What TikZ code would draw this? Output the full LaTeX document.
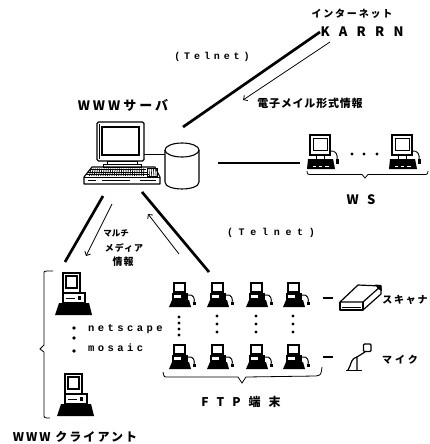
\documentclass[tikz,border=0pt]{standalone}
\usepackage{fontspec}
\setmainfont{Liberation Sans}
\newfontfamily\jpfont{Noto Sans CJK JP}
\newfontfamily\typefont{Liberation Mono}
\usetikzlibrary{arrows.meta}

% letter-spaced text: size, spacing, text
\newcommand\jtxt[3]{{\jpfont\bfseries\fontsize{#1}{#1}\selectfont\addfontfeature{LetterSpace=#2}#3}}
\newcommand\mtxt[3]{{\typefont\bfseries\fontsize{#1}{#1}\selectfont\addfontfeature{LetterSpace=#2}#3}}

\tikzset{
  heavy/.style={line width=2.7pt},
  flow/.style={line width=0.8pt,-{Straight Barb[angle=90:4.5pt,line width=0.8pt]}},
  brace/.style={line width=0.8pt},
  lbl/.style={inner sep=0pt,outer sep=0pt},
  dot/.style={circle,fill,inner sep=0pt,minimum size=3.4pt},
  % small black FTP terminal
  ftpterm/.pic={
    \fill (0,0) rectangle (13,11);
    \fill[white] (2,2) rectangle (11,9);
    \fill (-1,11) rectangle (15,18);
    \fill[white] (1,13) rectangle (8,16);
    \fill (-1,18) -- (16,18) -- (18,25) -- (-4,25) -- cycle;
    \draw[line width=1pt] (15,13) .. controls (21,12) and (22,17) .. (21,21);
    \fill (19.5,20) rectangle (22.5,23);
  },
  % workstation: monitor over a dark keyboard
  wsterm/.pic={
    \draw[line width=1.2pt] (0,0) rectangle (20,20);
    \draw[line width=0.9pt] (3,3) rectangle (17,15);
    \draw[line width=0.8pt] (6,20) -- (6,24) (14,20) -- (14,24);
    \fill (-2,24) -- (23,24) -- (25,34) -- (-3,34) -- cycle;
    \draw[white,line width=0.7pt] (3,31) -- (6,31) (9,31) -- (12,31) (15,31) -- (19,31);
    \draw[line width=0.9pt] (20,16) .. controls (26,15) and (28,20) .. (27,25);
    \fill (25.5,24) rectangle (28.5,29);
  },
  % desktop client: monitor on a system unit with a dark base
  clterm/.pic={
    \draw[line width=1.3pt] (0,0) rectangle (17,20);
    \draw[line width=1.5pt] (3,3) rectangle (14,15);
    \draw[line width=1.1pt] (0,20) rectangle (22,30);
    \draw[line width=0.9pt] (3,25) -- (12,25);
    \fill (15,23) rectangle (18,27);
    \fill (-4,30) -- (26,30) -- (29,42) -- (-8,42) -- cycle;
  },
}

\begin{document}
\begin{tikzpicture}[x=1pt,y=-1pt]
\useasboundingbox (0,0) rectangle (429,444);

% ---------------- labels ----------------
\node[lbl] (inetlbl) at (352,14) {\jtxt{10}{18}{インターネット}};
\node[lbl] (karrn) at (362,32) {\jtxt{13}{71}{KARRN}};
\node[lbl] (telnet1) at (212,57) {\mtxt{10}{39}{(Telnet)}};
\node[lbl] (maillbl) at (310,103) {\jtxt{11}{7}{電子メイル形式情報}};
\node[lbl] (srvlbl) at (123,105) {\jtxt{13}{23}{WWWサーバ}};
\node[lbl] (wslbl) at (361,200) {\jtxt{13}{65}{WS}};
\node[lbl] (mm1) at (116,233) {\jtxt{8.5}{0}{マルチ}};
\node[lbl] (mm2) at (124,248) {\jtxt{9}{10}{メディア}};
\node[lbl] (mm3) at (123,262) {\jtxt{10}{10}{情報}};
\node[lbl] (telnet2) at (271,233) {\mtxt{10}{57}{(Telnet)}};
\node[lbl,anchor=west] (netscape) at (88,329) {\mtxt{10.5}{33}{netscape}};
\node[lbl,anchor=west] (mosaic) at (88,348) {\mtxt{10.5}{33}{mosaic}};
\node[lbl] (cllbl) at (75,437) {\jtxt{12}{17}{WWW クライアント}};
\node[lbl] (ftplbl) at (241,402) {\jtxt{12}{67}{FTP端末}};
\node[lbl] (scanlbl) at (405,300) {\jtxt{10}{17}{スキャナ}};
\node[lbl] (miclbl) at (400,360) {\jtxt{10}{30}{マイク}};

% ---------------- WWW server ----------------
\draw[line width=1.3pt,rounded corners=1.5pt] (97,122) rectangle (144,161);
\draw[line width=0.6pt] (99,124) -- (99,159);
\draw[line width=1.5pt] (102,127) rectangle (139,155);
\draw[line width=0.9pt,fill=white] (107,161) rectangle (137,164);
\draw[line width=0.9pt,fill=white] (103,164) rectangle (141,167);
% keyboard
\draw[line width=1.1pt,line join=round] (92,167) -- (155,167) -- (160,177) -- (160,184) -- (84,184) -- (84,177) -- cycle;
\draw[line width=0.9pt] (84,177) -- (160,177);
\foreach \r in {169.5,172,174.5}
  \draw[line width=0.6pt] (91-1.1*\r+186.5,\r) -- (146+0.6*\r-101.7,\r);
\foreach \k in {0,...,24}
  \draw[line width=0.7pt] (91+2.2*\k,168.5) -- (89.5+2.25*\k,176);
\draw[line width=0.7pt] (147,168.5) rectangle (157,176);
\foreach \k in {0,...,3}
  \draw[line width=0.6pt] (149+2.2*\k,168.5) -- (149.5+2.2*\k,176);
\draw[line width=0.7pt] (88,180.5) -- (96,180.5) (102,180.5) -- (130,180.5) (140,180.5) -- (156,180.5);
% disk
\draw[line width=1.1pt] (165,150) -- (165,182) .. controls (165,191.3) and (199,191.3) .. (199,182) -- (199,150);
\draw[line width=1.1pt] (182,150) ellipse [x radius=17, y radius=7];
\coordinate (srvmon) at (144,154);
\coordinate (disk) at (165,154);
\draw[line width=0.9pt] (srvmon) -- (disk);

% ---------------- workstations ----------------
\pic (ws1) at (310,135) {wsterm};
\pic (ws2) at (392,135) {wsterm};
\node[dot] (wsd1) at (352,154) {};
\node[dot] (wsd2) at (364,154) {};
\node[dot] (wsd3) at (377,154) {};
\draw[brace] (307,171) .. controls (307.5,174.5) .. (312,174.5) -- (362,174.5) -- (365,178) -- (368,174.5) -- (423,174.5) .. controls (427.5,174.5) .. (428,171);

% ---------------- clients ----------------
\pic (cl1) at (63,273) {clterm};
\pic (cl2) at (65,374) {clterm};
\node[dot,minimum size=3.8pt] (cld1) at (74,328) {};
\node[dot,minimum size=3.8pt] (cld2) at (74,338) {};
\node[dot,minimum size=3.8pt] (cld3) at (74,351) {};
\draw[brace] (53,271) -- (47,271) .. controls (44,271) .. (44,275) -- (44,345) -- (40,349) -- (44,352) -- (44,414) .. controls (44,418) .. (50,418);

% ---------------- FTP terminals ----------------
\foreach \c/\x in {1/173,2/211,3/250,4/287}{
  \pic (ftpa\c) at (\x,282) {ftpterm};
  \pic (ftpb\c) at (\x,344) {ftpterm};
}
\foreach \y in {317,323,329,335} \node[dot,minimum size=3.2pt] at (179,\y) {};
\foreach \x in {217,256,293}
  \foreach \y in {316,324,332} \node[dot,minimum size=3.2pt] at (\x,\y) {};
\draw[brace] (163,372) .. controls (164,377) .. (168,377) -- (238,377) -- (242,383) -- (246,377) -- (316,376) .. controls (321,375) .. (322,367);

% scanner
\coordinate (ftpr1) at (323,298);
\coordinate (scan) at (333,298);
\draw[line width=2pt] (ftpr1) -- (scan);
\draw[line width=1.2pt,line join=round] (340,302) -- (358,285) -- (381,286) -- (363,302) -- cycle;
\draw[line width=1.2pt,line join=round] (340,302) -- (340,310) -- (363,310) -- (363,302);
\draw[line width=1.2pt,line join=round] (363,310) -- (381,294) -- (381,286);
\draw[line width=0.5pt] (342,307.5) -- (361,307.5);
\fill (375,284.5) -- (381,285) -- (382,291) -- (378,289) -- cycle;

% microphone
\coordinate (ftpr2) at (323,357);
\coordinate (mic) at (333,357);
\draw[line width=2pt] (ftpr2) -- (mic);
\draw[line width=1.2pt,rounded corners=1pt] (363.5,344) rectangle (371,351.5);
\draw[line width=1.2pt] (365,352) -- (357,357) -- (357,370.5);
\draw[line width=1.2pt] (357,357) .. controls (352,358) and (351,363) .. (350,366) -- (348,370);
\draw[line width=1.2pt] (346,370.5) -- (362,370.5);

% ---------------- connectors ----------------
\coordinate (karrnend) at (320,32);
\coordinate (srvne) at (183,127);
\draw[heavy] (karrnend) -- (srvne);
\coordinate (mailstart) at (330,42);
\coordinate (mailend) at (243,100);
\draw[flow] (mailstart) -- (mailend);

\coordinate (disknear) at (218,163);
\coordinate (wsnear) at (300,163);
\draw[heavy] (disknear) -- (wsnear);

\coordinate (srvsw) at (103,196);
\coordinate (clnear) at (65,262);
\draw[heavy] (srvsw) -- (clnear);
\coordinate (mmstart) at (112,204);
\coordinate (mmend) at (86,256);
\draw[flow] (mmstart) -- (mmend);

\coordinate (srvse) at (142,192);
\coordinate (ftpnear) at (209,272);
\draw[heavy] (srvse) -- (ftpnear);
\coordinate (upstart) at (179,254);
\coordinate (upend) at (148,214);
\draw[flow] (upstart) -- (upend);
\end{tikzpicture}
\end{document}
